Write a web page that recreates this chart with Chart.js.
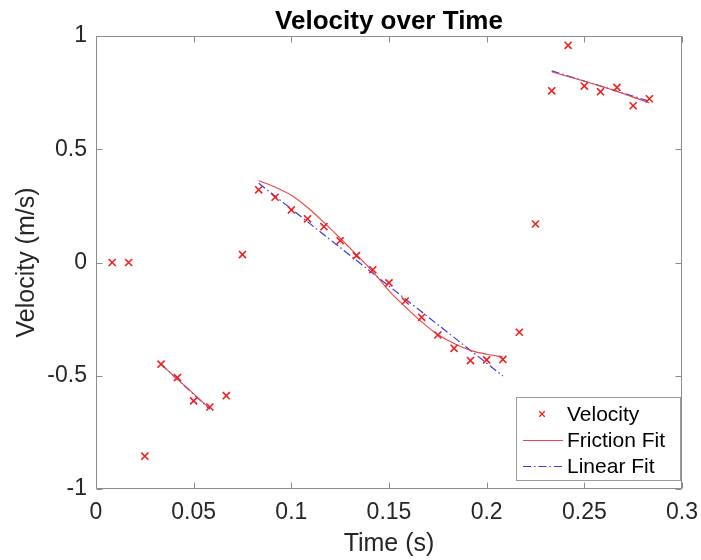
<!DOCTYPE html>
<html><head><meta charset="utf-8">
<script src="https://cdn.jsdelivr.net/npm/chart.js@4.4.1/dist/chart.umd.min.js"></script>
<style>html,body{margin:0;padding:0;background:#fff;}canvas{display:block;}</style>
</head><body>
<canvas id="c" width="701" height="560"></canvas>
<script>
// ---- data ----
const times = [0.0083,0.0167,0.025,0.0333,0.0417,0.05,0.0583,0.0667,0.075,0.0833,
  0.0917,0.1,0.1083,0.1167,0.125,0.1333,0.1417,0.15,0.1583,0.1667,
  0.175,0.1833,0.1917,0.2,0.2083,0.2167,0.225,0.2333,0.2417,0.25,
  0.2583,0.2667,0.275,0.2833];
const velocity = [0,0,-0.855,-0.449,-0.508,-0.611,-0.638,-0.588,0.035,0.321,
  0.288,0.232,0.193,0.158,0.096,0.030,-0.032,-0.090,-0.170,-0.242,
  -0.320,-0.379,-0.433,-0.430,-0.428,-0.308,0.170,0.758,0.959,0.779,
  0.754,0.773,0.692,0.723];

const friction1T = [0.0333,0.0417,0.05,0.0583];
const friction1V = [-0.450,-0.515,-0.580,-0.645];
const friction2T = [0.0833,0.0917,0.1,0.1083,0.1167,0.125,0.1333,0.1417,0.15,0.1583,0.1667,0.175,0.1833,0.1917,0.2,0.2083];
const friction2V = [0.361,0.333,0.297,0.243,0.177,0.107,0.035,-0.040,-0.125,-0.195,-0.262,-0.318,-0.358,-0.388,-0.405,-0.417];
const friction3T = [0.2333,0.2583,0.2833];
const friction3V = [0.842,0.779,0.705];

const linear1T = [0.0333,0.0583];
const linear1V = [-0.449,-0.648];
const linear2T = [0.0833,0.2083];
const linear2V = [0.350,-0.501];
const linear3T = [0.2333,0.2833];
const linear3V = [0.846,0.712];

const xTicks = [0,0.05,0.1,0.15,0.2,0.25,0.3];
const xTickLabels = ['0','0.05','0.1','0.15','0.2','0.25','0.3'];
const yTicks = [-1,-0.5,0,0.5,1];
const yTickLabels = ['-1','-0.5','0','0.5','1'];

const titleText = 'Velocity over Time';
const xTitle = 'Time (s)';
const yTitle = 'Velocity (m/s)';
const seriesLabels = ['Velocity','Friction Fit','Linear Fit'];

// ---- build ----
function pts(t, v){ return t.map((x,i)=>({x:x,y:v[i]})); }
function joinSegs(segs){
  const out=[];
  segs.forEach((s,i)=>{ if(i>0) out.push({x:s[0].x, y:null}); out.push(...s); });
  return out;
}

const FONT = '"Liberation Sans", Arial, Helvetica, sans-serif';
const TXT = '#262626';
const FRAME = '#8c8c8c';

const overlay = {
  id:'overlay',
  afterDraw(chart){
    const {ctx, chartArea:a, scales:{x,y}} = chart;
    ctx.save();
    const L=Math.round(a.left)+0.5, R=Math.round(a.right)-0.5, T=Math.round(a.top)+0.5, B=Math.round(a.bottom)-0.5;
    ctx.strokeStyle=FRAME; ctx.lineWidth=1;
    ctx.beginPath(); ctx.rect(L,T,R-L,B-T); ctx.stroke();
    const tl=6;
    ctx.beginPath();
    xTicks.forEach(v=>{ const px=Math.round(x.getPixelForValue(v))+0.5;
      ctx.moveTo(px,B); ctx.lineTo(px,B-tl); ctx.moveTo(px,T); ctx.lineTo(px,T+tl); });
    yTicks.forEach(v=>{ const py=Math.round(y.getPixelForValue(v))+0.5;
      ctx.moveTo(L,py); ctx.lineTo(L+tl,py); ctx.moveTo(R,py); ctx.lineTo(R-tl,py); });
    ctx.stroke();
    // title
    ctx.fillStyle='#000'; ctx.font='bold 26px '+FONT; ctx.textAlign='center'; ctx.textBaseline='alphabetic';
    ctx.fillText(titleText,(a.left+a.right)/2,29);
    // legend
    const bx=516.5, by=397.5, bw=164, bh=83;
    ctx.fillStyle='#fff'; ctx.fillRect(bx,by,bw,bh);
    ctx.strokeStyle='#9a9a9a'; ctx.lineWidth=1; ctx.strokeRect(bx,by,bw,bh);
    const rows=[414,440,466];
    ctx.font='21px '+FONT; ctx.textAlign='left'; ctx.textBaseline='middle';
    chart.data.datasets.forEach((ds,i)=>{
      const cy=rows[i];
      if(ds.showLine===false){
        ctx.strokeStyle=ds.borderColor; ctx.lineWidth=1.3; const r=2.8;
        ctx.beginPath(); ctx.moveTo(542-r,cy-r); ctx.lineTo(542+r,cy+r); ctx.moveTo(542-r,cy+r); ctx.lineTo(542+r,cy-r); ctx.stroke();
      } else {
        ctx.strokeStyle=ds.borderColor; ctx.lineWidth=ds.borderWidth; ctx.setLineDash(ds.borderDash||[]);
        ctx.beginPath(); ctx.moveTo(523,cy+0.5); ctx.lineTo(563,cy+0.5); ctx.stroke(); ctx.setLineDash([]);
      }
      ctx.fillStyle='#000'; ctx.fillText(ds.label,567,cy+1);
    });
    ctx.restore();
  }
};

new Chart(document.getElementById('c'), {
  type:'scatter',
  data:{ datasets:[
    { label:seriesLabels[0], data:pts(times,velocity), showLine:false,
      pointStyle:'crossRot', pointRadius:5, pointBorderWidth:1.6, borderColor:'#f01e1e', backgroundColor:'#f01e1e', pointHoverRadius:5 },
    { label:seriesLabels[1], data:joinSegs([pts(friction1T,friction1V),pts(friction2T,friction2V),pts(friction3T,friction3V)]),
      showLine:true, spanGaps:false, borderColor:'#ea4444', borderWidth:1.1, pointRadius:0, cubicInterpolationMode:'monotone', tension:0.4 },
    { label:seriesLabels[2], data:joinSegs([pts(linear1T,linear1V),pts(linear2T,linear2V),pts(linear3T,linear3V)]),
      showLine:true, spanGaps:false, borderColor:'#3a3ad6', borderWidth:1.2, borderDash:[8,3,1.5,3], pointRadius:0 }
  ]},
  options:{
    responsive:false, animation:false, devicePixelRatio:1,
    layout:{ padding:{ top:36, right:19, left:0, bottom:0 } },
    plugins:{ legend:{display:false}, title:{display:false}, tooltip:{enabled:false} },
    scales:{
      x:{ type:'linear', min:0, max:0.3,
        afterBuildTicks(s){ s.ticks = xTicks.map(v=>({value:v})); },
        afterFit(s){ s.height=71; s.paddingLeft=0; s.paddingRight=0; },
        ticks:{ autoSkip:false, maxRotation:0, padding:10, color:TXT, font:{family:FONT,size:23},
          callback:(v,i)=>xTickLabels[i] },
        grid:{ drawOnChartArea:false, drawTicks:false }, border:{display:false},
        title:{ display:true, text:xTitle, color:TXT, font:{family:FONT,size:25}, padding:{top:0,bottom:1} } },
      y:{ type:'linear', min:-1, max:1,
        afterBuildTicks(s){ s.ticks = yTicks.map(v=>({value:v})); },
        afterFit(s){ s.width=96; s.paddingTop=0; s.paddingBottom=0; },
        ticks:{ autoSkip:false, padding:9, color:TXT, font:{family:FONT,size:23},
          callback:(v,i)=>yTickLabels[i] },
        grid:{ drawOnChartArea:false, drawTicks:false }, border:{display:false},
        title:{ display:true, text:yTitle, color:TXT, font:{family:FONT,size:25}, padding:{top:12,bottom:0} } }
    }
  },
  plugins:[overlay]
});
</script>
</body></html>
